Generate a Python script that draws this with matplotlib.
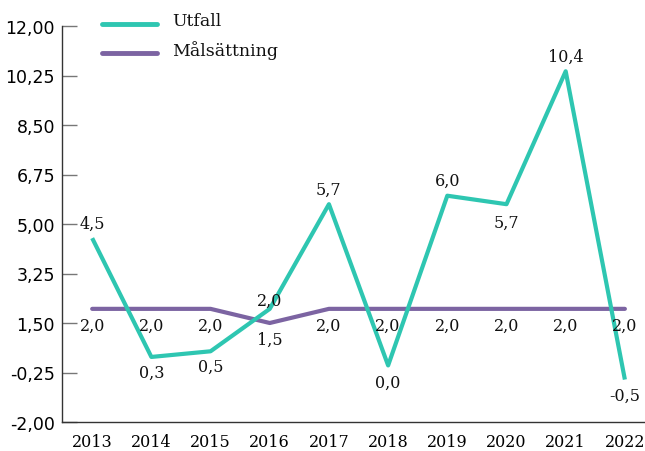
import matplotlib
matplotlib.use("Agg")
import matplotlib.pyplot as plt
from matplotlib.lines import Line2D

years = ["2013", "2014", "2015", "2016", "2017", "2018", "2019", "2020", "2021", "2022"]
utfall = [4.5, 0.3, 0.5, 2.0, 5.7, 0.0, 6.0, 5.7, 10.4, -0.5]
malsattning = [2.0, 2.0, 2.0, 1.5, 2.0, 2.0, 2.0, 2.0, 2.0, 2.0]
yticks = [-2.00, -0.25, 1.50, 3.25, 5.00, 6.75, 8.50, 10.25, 12.00]
series_names = ["Utfall", "Målsättning"]

# label placement (offset in points, +up / -down)
utfall_off = [11, -11, -11, 6, 11, -12, 11, -13, 11, -11]
mal_off = [-12] * 10

teal = "#2EC6B1"
purple = "#7C64A2"
serif = "DejaVu Serif"
W, H = 645, 452

fig = plt.figure(figsize=(W / 100, H / 100), dpi=100)
ax = fig.add_axes([62 / W, 1 - 423 / H, 583 / W, 396 / H])

x = list(range(len(years)))
ax.plot(x, utfall, color=teal, lw=3.0, solid_capstyle="butt", zorder=3)
ax.plot(x, malsattning, color=purple, lw=3.0, solid_capstyle="round", zorder=2)

def fmt(v):
    return f"{v:.1f}".replace(".", ",")

for xi, v, off in zip(x, utfall, utfall_off):
    ax.annotate(fmt(v), (xi, v), xytext=(0, off), textcoords="offset points",
                ha="center", va="center", fontsize=11.5, family=serif, color="#111111", zorder=5)
for xi, v, off in zip(x, malsattning, mal_off):
    ax.annotate(fmt(v), (xi, v), xytext=(0, off), textcoords="offset points",
                ha="center", va="center", fontsize=11.5, family=serif, color="#111111", zorder=5)

ax.set_xlim(-0.51, 9.34)
ax.set_ylim(-2, 12)
ax.set_xticks(x)
ax.set_xticklabels(years, family=serif, fontsize=11.5)
ax.set_yticks(yticks)
ax.set_yticklabels([f"{t:.2f}".replace(".", ",") for t in yticks], family="DejaVu Sans", fontsize=12.5)

ax.tick_params(axis="y", direction="in", length=11, width=1, color="#777777", pad=5)
ax.tick_params(axis="x", length=0, pad=8)
for s in ["top", "right"]:
    ax.spines[s].set_visible(False)
for s in ["left", "bottom"]:
    ax.spines[s].set_color("#333333")
    ax.spines[s].set_linewidth(1)

# legend drawn manually in pixel positions
for name, col, yp in zip(series_names, [teal, purple], [25, 54]):
    fig.add_artist(Line2D([102 / W, 157 / W], [1 - yp / H, 1 - yp / H], color=col, lw=3.5,
                          solid_capstyle="round", transform=fig.transFigure))
    fig.text(172 / W, 1 - (yp - 3) / H, name, family=serif, fontsize=12.5, va="center",
             ha="left", color="#111111")

fig.savefig("out.png", dpi=100)
